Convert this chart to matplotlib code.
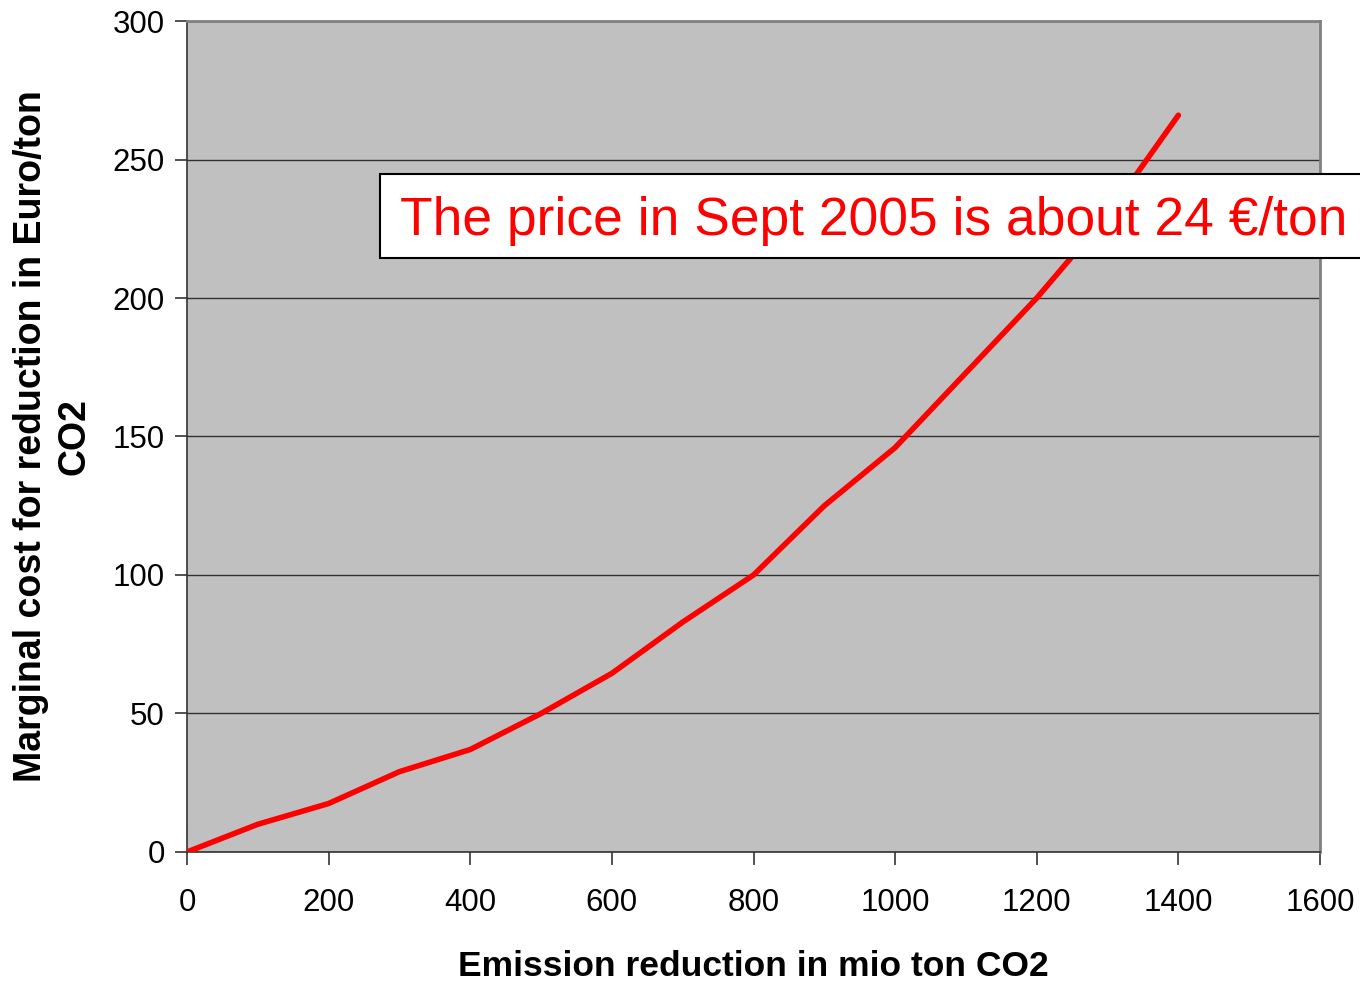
import matplotlib.pyplot as plt
from matplotlib.patches import Rectangle

plt.rcParams['font.family'] = ['Liberation Sans', 'DejaVu Sans']

# emission reduction (mio ton CO2) and marginal cost (Euro/ton)
reduction = [0, 100, 200, 300, 400, 500, 600, 700, 800, 900, 1000, 1100, 1200, 1300, 1400]
cost = [0, 10, 17.5, 29, 37, 50, 64.5, 83, 100, 125, 146, 173, 200, 230, 266]

x_ticks = [0, 200, 400, 600, 800, 1000, 1200, 1400, 1600]
y_ticks = [0, 50, 100, 150, 200, 250, 300]

note = "The price in Sept 2005 is about 24 \u20ac/ton"

fig = plt.figure(figsize=(13.6, 9.82), dpi=100)
ax = fig.add_axes([0.1375, 0.1324, 0.8331, 0.8462])
ax.set_facecolor('#c0c0c0')

ax.plot(reduction, cost, color='#ff0000', lw=4, solid_capstyle='round',
        solid_joinstyle='round', zorder=3)

ax.set_xlim(0, 1600)
ax.set_ylim(0, 300)
ax.set_xticks(x_ticks)
ax.set_yticks(y_ticks)
ax.grid(axis='y', color='black', lw=1, alpha=0.75)
ax.set_axisbelow(True)

ax.tick_params(direction='out', length=9, width=1.2, colors='#333333',
               labelsize=22.5, labelcolor='black')
ax.tick_params(axis='x', pad=17)
ax.tick_params(axis='y', pad=7)

for side in ['left', 'bottom']:
    ax.spines[side].set_color('#333333')
    ax.spines[side].set_linewidth(1.2)
for side in ['top', 'right']:
    ax.spines[side].set_color('#808080')
    ax.spines[side].set_linewidth(2)

ax.set_xlabel("Emission reduction in mio ton CO2", fontsize=25.5, fontweight='bold')
ax.set_ylabel("Marginal cost for reduction in Euro/ton\nCO2", fontsize=27,
              fontweight='bold', linespacing=1.3)
ax.xaxis.set_label_coords(0.5, -0.118)
ax.yaxis.set_label_coords(-0.083, 0.5)

# callout box running off the right edge
box = Rectangle((380 / 1360, 1 - 258 / 982), 1000 / 1360, 84 / 982,
                transform=fig.transFigure, facecolor='white', edgecolor='black',
                lw=1.5, zorder=5, clip_on=False)
fig.add_artist(box)
fig.text(400 / 1360, 1 - 221 / 982, note, color='#ff0000', fontsize=38.4,
         va='center', ha='left', zorder=6)

fig.savefig('out.png', dpi=100)
